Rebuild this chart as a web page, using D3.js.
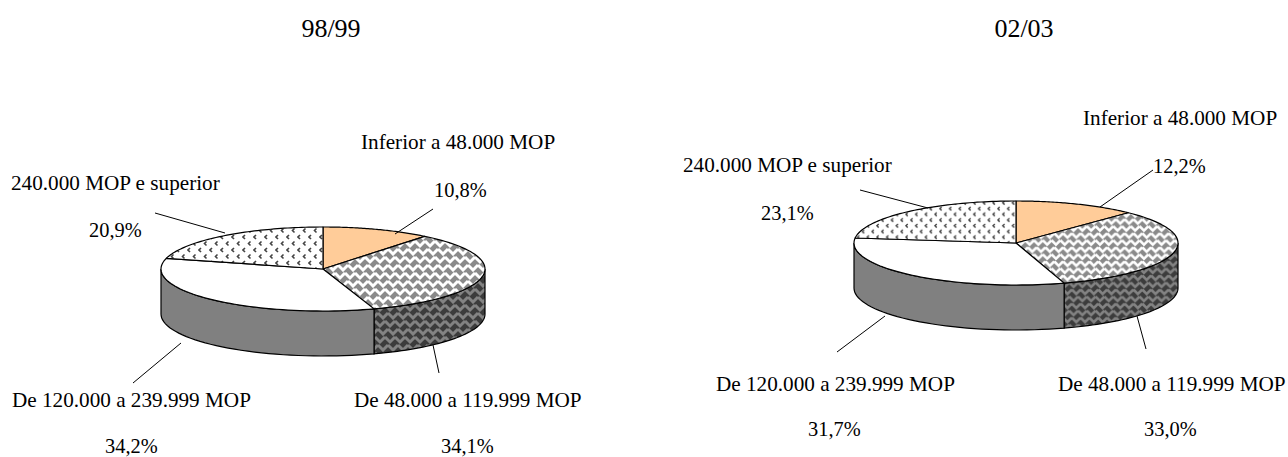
<!DOCTYPE html>
<html><head><meta charset="utf-8">
<script src="https://cdnjs.cloudflare.com/ajax/libs/d3/7.8.5/d3.min.js"></script>
<style>html,body{margin:0;padding:0;background:#fff}svg{display:block}text{font-family:"Liberation Serif",serif;font-size:21.2px;fill:#000}text.title{font-size:26px}text.pct{font-size:20.4px}</style>
</head><body><svg id="c" width="1288" height="457"></svg>
<script>
const categories = ["Inferior a 48.000 MOP","De 48.000 a 119.999 MOP","De 120.000 a 239.999 MOP","240.000 MOP e superior"];
const years = ["98/99","02/03"];
const values9899 = [10.8,34.1,34.2,20.9];
const values0203 = [12.2,33.0,31.7,23.1];
const labels9899 = ["10,8%","34,1%","34,2%","20,9%"];
const labels0203 = ["12,2%","33,0%","31,7%","23,1%"];

const svg = d3.select("#c");
const defs = svg.append("defs");
function chevrons(id,bg,fg,w,sc){
  const p=defs.append("pattern").attr("id",id).attr("patternUnits","userSpaceOnUse").attr("width",10).attr("height",16).attr("patternTransform",`scale(${sc})`);
  p.append("rect").attr("width",10).attr("height",16).attr("fill",bg);
  const offsets=[-10,0,10,20];
  [[0,1],[3,9],[0,17],[3,-7]].forEach(r=>offsets.forEach(ox=>
    p.append("path").attr("d",`M${ox+r[0]-5},${r[1]} L${ox+r[0]},${r[1]+5} L${ox+r[0]+5},${r[1]}`)
      .attr("fill","none").attr("stroke",fg).attr("stroke-width",w).attr("stroke-linejoin","miter")));
}
chevrons("zigTop0","#8a8a8a","#fff",3,1);
chevrons("zigSide0","#3c3c3c","#838383",3,1);
chevrons("zigTop1","#8a8a8a","#fff",3,0.88);
chevrons("zigSide1","#3c3c3c","#838383",3,0.88);
function dotted(id,sc){
  const p=defs.append("pattern").attr("id",id).attr("patternUnits","userSpaceOnUse").attr("width",11).attr("height",13).attr("patternTransform",`scale(${sc})`);
  p.append("rect").attr("width",11).attr("height",13).attr("fill","#fff");
  ["M3,1 L1,3 L3,5","M8.5,7.5 L6.5,9.5 L8.5,11.5"].forEach(d=>p.append("path").attr("d",d).attr("fill","none").attr("stroke","#444").attr("stroke-width",1.6));
}
dotted("dots0",1); dotted("dots1",0.88);

function drawPie(cfg,k){
  const topFills=["#FFCC99",`url(#zigTop${k})`,"#fff",`url(#dots${k})`];
  const sideFills=["#FFCC99",`url(#zigSide${k})`,"#808080",`url(#dots${k})`];
  const g=svg.append("g");
  const pie=d3.pie().sort(null).value(d=>d)(cfg.values);
  const px=d3.scaleLinear().domain([-1,1]).range([cfg.cx-cfg.rx,cfg.cx+cfg.rx]);
  const py=d3.scaleLinear().domain([-1,1]).range([cfg.cy-cfg.ry,cfg.cy+cfg.ry]);
  const pt=(a,dz)=>[px(Math.sin(a)),py(-Math.cos(a))+dz];
  pie.forEach((s,i)=>{
    const a0=Math.max(s.startAngle,Math.PI/2),a1=Math.min(s.endAngle,Math.PI*1.5);
    if(a1<=a0) return;
    const as=d3.range(0,41).map(j=>a0+(a1-a0)*j/40);
    const pts=as.map(a=>pt(a,0)).concat(as.slice().reverse().map(a=>pt(a,cfg.depth)));
    g.append("path").attr("d",d3.line()(pts)+"Z").attr("fill",sideFills[i]).attr("stroke","#000").attr("stroke-width",1.2);
  });
  pie.forEach((s,i)=>{
    const as=d3.range(0,61).map(j=>s.startAngle+(s.endAngle-s.startAngle)*j/60);
    const pts=[[cfg.cx,cfg.cy]].concat(as.map(a=>pt(a,0)));
    g.append("path").attr("d",d3.line()(pts)+"Z").attr("fill",topFills[i]).attr("stroke","#000").attr("stroke-width",1.2).attr("stroke-linejoin","round");
  });
  cfg.leaders.forEach(l=>g.append("line").attr("x1",l[0]).attr("y1",l[1]).attr("x2",l[2]).attr("y2",l[3]).attr("stroke","#000").attr("stroke-width",1));
  g.append("text").attr("class","title").attr("x",cfg.titleX).attr("y",37).attr("text-anchor","middle").text(cfg.title);
  cfg.cat.forEach((p,i)=>g.append("text").attr("x",p[0]).attr("y",p[1]).text(categories[i]));
  cfg.pct.forEach((p,i)=>g.append("text").attr("class","pct").attr("x",p[0]).attr("y",p[1]).text(cfg.labels[i]));
}
drawPie({title:years[0],titleX:331,values:values9899,labels:labels9899,cx:323,cy:269,rx:162,ry:42,depth:45,
  leaders:[[395,234,433,209],[439,373,433,345],[133,383,181,343],[155,213,225,233]],
  cat:[[361,149],[354,407],[12,407],[11,190]],
  pct:[[434,197],[441,453],[105,453],[89,237]]},0);
drawPie({title:years[1],titleX:1024,values:values0203,labels:labels0203,cx:1016,cy:243,rx:162,ry:42,depth:45,
  leaders:[[1100,207,1153,170],[1146,349,1137,316],[837,352,885,316],[860,190,928,208]],
  cat:[[1083,125],[1058,391],[716,391],[683,172]],
  pct:[[1153,173],[1144,436],[808,436],[761,220]]},1);
</script></body></html>
